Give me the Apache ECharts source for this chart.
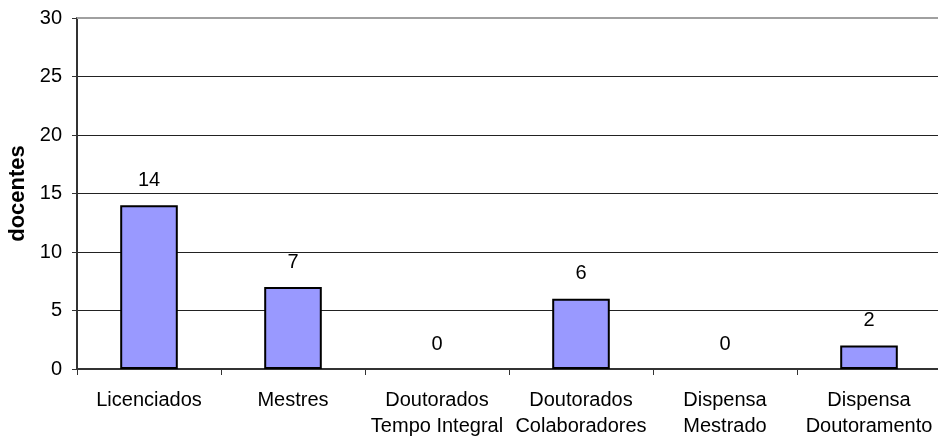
<!DOCTYPE html>
<html>
<head>
<meta charset="utf-8">
<script src="https://cdn.jsdelivr.net/npm/echarts@6/dist/echarts.min.js"></script>
<style>
  html, body { margin: 0; padding: 0; background: #fff; }
  #chart { width: 938px; height: 437px; }
</style>
</head>
<body>
<div id="chart"></div>
<script>
// Teaching staff by qualification
const categories = [
  'Licenciados',
  'Mestres',
  'Doutorados\nTempo Integral',
  'Doutorados\nColaboradores',
  'Dispensa\nMestrado',
  'Dispensa\nDoutoramento'
];
const docentes = [14, 7, 0, 6, 0, 2];
const yTicks = { min: 0, max: 30, interval: 5 };

const font = 'Liberation Sans, Arial, sans-serif';
const chart = echarts.init(document.getElementById('chart'), null, { renderer: 'canvas' });

// zero-valued bars keep their label but draw no outline
const barData = docentes.map(v => v === 0 ? { value: v, itemStyle: { borderWidth: 0 } } : v);

chart.setOption({
  animation: false,
  backgroundColor: '#ffffff',
  grid: {
    left: 77, top: 18, width: 864, height: 351,
    containLabel: false, outerBoundsMode: 'none'
  },
  xAxis: {
    type: 'category',
    data: categories,
    axisLine: { lineStyle: { color: '#333', width: 2 } },
    axisTick: { show: true, alignWithLabel: false, length: 6, lineStyle: { color: '#333', width: 1 } },
    axisLabel: {
      color: '#000', fontFamily: font, fontSize: 20, lineHeight: 26, margin: 18, interval: 0
    },
    splitLine: { show: false }
  },
  yAxis: {
    type: 'value',
    min: yTicks.min, max: yTicks.max, interval: yTicks.interval,
    name: 'docentes',
    nameLocation: 'middle',
    nameGap: 48,
    nameRotate: 90,
    nameTextStyle: { color: '#000', fontFamily: font, fontSize: 22, fontWeight: 'bold' },
    axisLine: { show: true, lineStyle: { color: '#333', width: 2 } },
    axisTick: { show: true, length: 5, lineStyle: { color: '#333', width: 1 } },
    axisLabel: { color: '#000', fontFamily: font, fontSize: 20, margin: 15 },
    splitLine: { show: true, lineStyle: { color: '#222', width: 1 } }
  },
  series: [{
    type: 'bar',
    data: barData,
    barWidth: '40%',
    itemStyle: { color: '#9999ff', borderColor: '#000', borderWidth: 2 },
    label: {
      show: true, position: 'top', distance: 15,
      color: '#000', fontFamily: font, fontSize: 20
    },
    markLine: {
      silent: true, symbol: 'none', label: { show: false },
      lineStyle: { color: '#a0a0a0', width: 2, type: 'solid' },
      data: [{ yAxis: 30 }]
    }
  }]
});
</script>
</body>
</html>
